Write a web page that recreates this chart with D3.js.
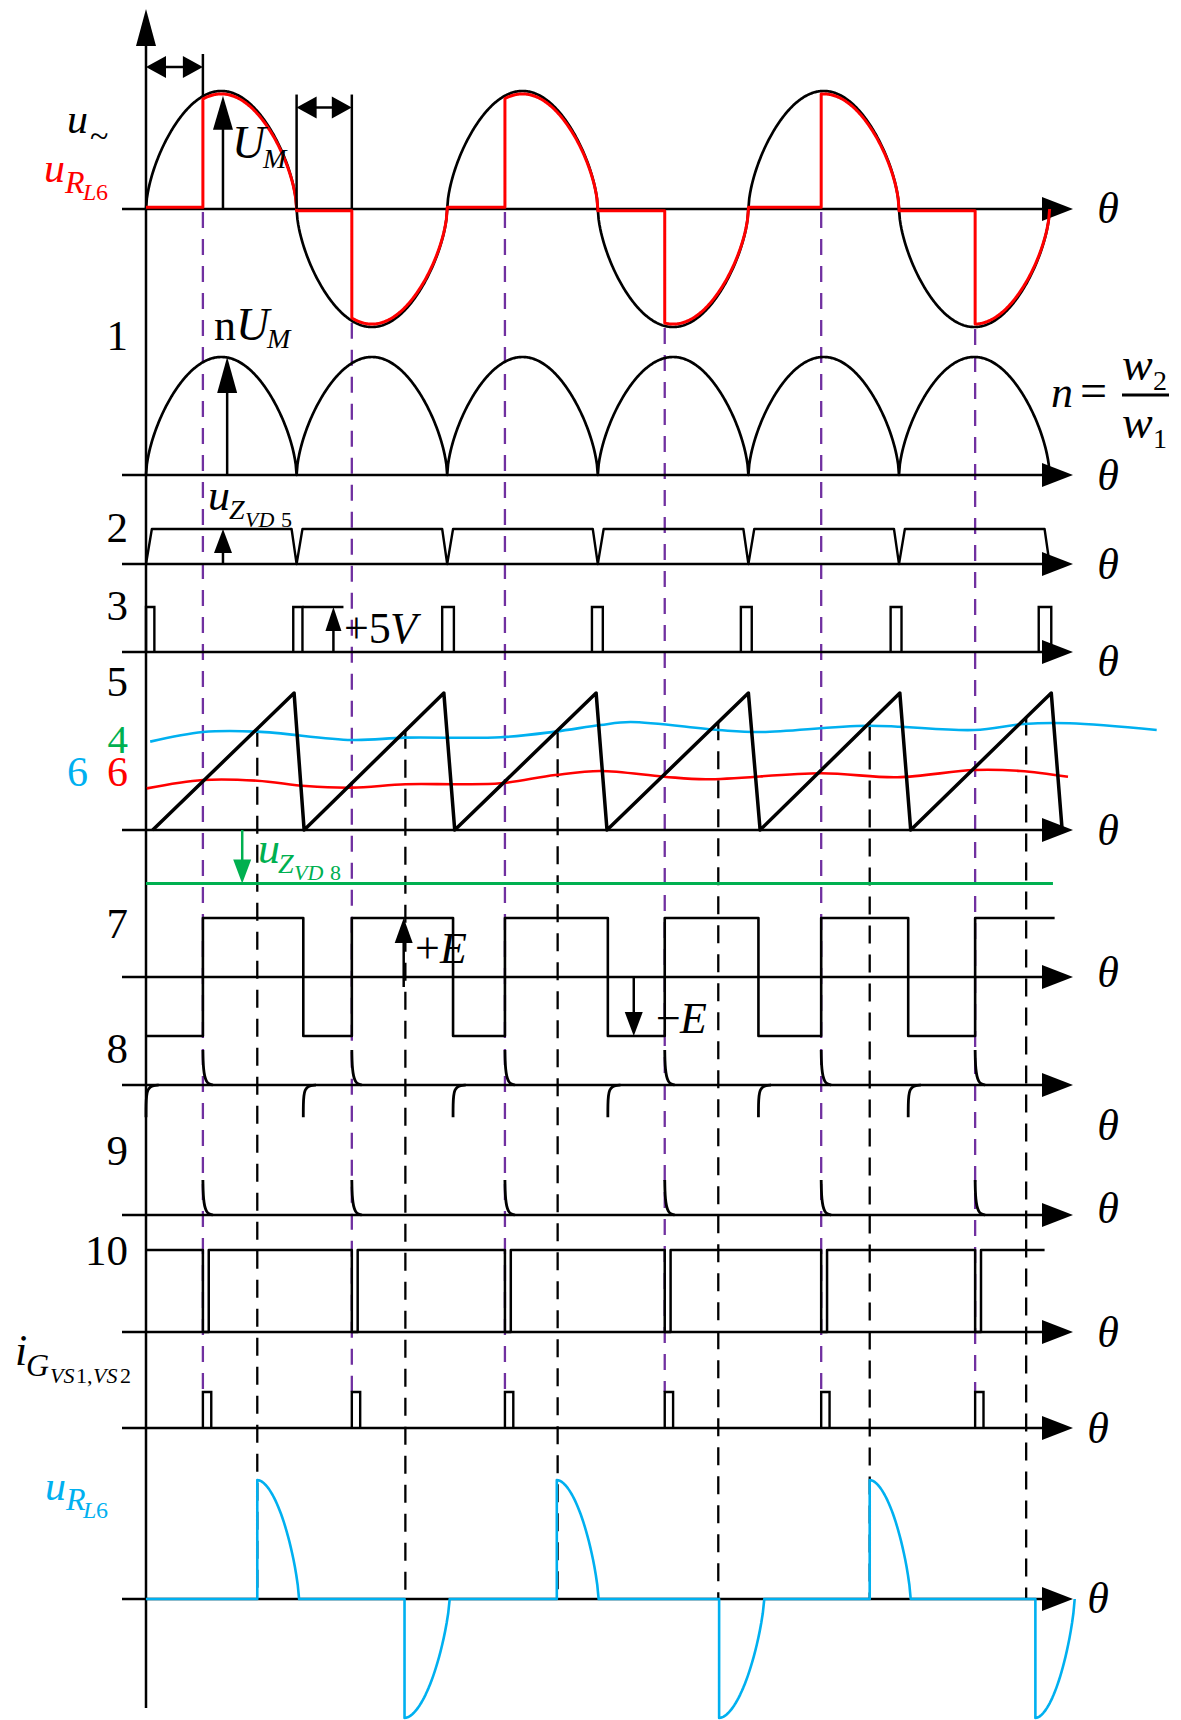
<!DOCTYPE html>
<html><head><meta charset="utf-8">
<script src="https://cdn.jsdelivr.net/npm/d3@7"></script>
<style>body{margin:0;background:#fff} svg{display:block} text{font-family:"Liberation Serif","Times New Roman",serif}</style>
</head><body><svg id="c" width="1181" height="1720"></svg>
<script>
// ---------------- data (angles in degrees of θ) ----------------
const zeroCrossDeg = [0,180,360,540,720,900,1080];
const firingDeg = [68,246,429,620,807,991];              // purple dashed lines / firing instants
const crossDeg = [133,310,492,684,865,1052];             // black dashed lines (sawtooth meets control voltage 6)
const sawPts = [[8,0],[177,1],[189,0],[356,1],[369,0],[538,1],[551,0],[720,1],[734,0],[901,1],[914,0],[1082,1],[1095,0]];
const blueCtrl = [[5,0.645],[68,0.715],[133,0.718],[246,0.657],[310,0.674],[424,0.677],[489,0.718],[543,0.766],[579,0.788],[684,0.73],[734,0.715],[862,0.761],[990,0.73],[1049,0.774],[1104,0.779],[1208,0.73]];
const redCtrl = [[1,0.304],[68,0.365],[133,0.36],[191,0.321],[246,0.309],[310,0.334],[374,0.334],[424,0.341],[489,0.401],[543,0.431],[619,0.389],[669,0.37],[807,0.414],[898,0.385],[990,0.438],[1045,0.431],[1102,0.389]];
const zenerVD8 = -0.39;
const fallDeg = [0,188,367,552,732,911];
const sqEndDeg = 1086;
const trapRise = 7, trapFall = 6;
const pulse3 = [[0,10],[176,187],[354,368],[533,546],[711,724],[890,903],[1067,1082]];
const notch10 = 7;
const panel10End = 1074;
const gateWidth = 10;
const loadPos = [[133,183],[491,541],[865,914]];
const loadNeg = [[309,363],[685,739],[1063,1110]];
const posSpike = [[0,1],[0.2,0.7],[0.8,0.45],[2,0.25],[4,0.11],[7,0.03],[12,0]];
const negSpike = [[0,-0.92],[0,-0.55],[0.6,-0.3],[2,-0.14],[5,-0.05],[9,-0.01],[15,0]];
const thetaLabelY = [208,475,564,661,830,972,1125,1208,1332,1428,1598];
const waveShape = 0.6;   // the drawn half-waves are fuller than a plain sine

// ---------------- scales ----------------
const svg = d3.select('#c');
svg.append('rect').attr('width',1181).attr('height',1720).attr('fill','#fff');
const x = d3.scaleLinear().domain([0,1080]).range([146,1049.6]);
const y1 = d3.scaleLinear().domain([-1,1]).range([327,91]);
const y2 = d3.scaleLinear().domain([0,1]).range([475,357]);
const y3 = d3.scaleLinear().domain([0,1]).range([564,529]);
const y4 = d3.scaleLinear().domain([0,1]).range([652,607]);
const y5 = d3.scaleLinear().domain([0,1]).range([830,693]);
const y7 = d3.scaleLinear().domain([-1,1]).range([1036,918]);
const y8 = d3.scaleLinear().domain([-1,1]).range([1120,1050]);
const y9 = d3.scaleLinear().domain([0,1]).range([1215,1180]);
const y10 = d3.scaleLinear().domain([0,1]).range([1332,1250]);
const yG = d3.scaleLinear().domain([0,1]).range([1428,1392]);
const yU = d3.scaleLinear().domain([-1,1]).range([1718,1480]);
const rad = d => d*Math.PI/180;
const wave = d => { const s=Math.sin(rad(d)); return Math.sign(s)*Math.pow(Math.abs(s),waveShape); };
const BLUE='#00b0f0', RED='#ff0000', GREEN='#00b050', PURPLE='#7030a0';

function path(pts, ys, stroke, w, curve){
  const ln = d3.line().x(d=>x(d[0])).y(d=>ys(d[1])).curve(curve||d3.curveLinear);
  return svg.append('path').attr('d',ln(pts)).attr('fill','none').attr('stroke',stroke)
    .attr('stroke-width',w).attr('stroke-linejoin','round');
}
function tri(p, fill){ svg.append('path').attr('d','M'+p.map(q=>q.join(',')).join('L')+'Z').attr('fill',fill||'#000'); }
function line(x1,y1_,x2,y2_,stroke,w,dash){
  const l = svg.append('line').attr('x1',x1).attr('y1',y1_).attr('x2',x2).attr('y2',y2_)
    .attr('stroke',stroke||'#000').attr('stroke-width',w||2.5);
  if(dash) l.attr('stroke-dasharray',dash);
  return l;
}
function vArrow(xx, yFrom, yTo, color, hl, hw){
  const dir = yTo<yFrom? 1 : -1;
  line(xx,yFrom,xx,yTo+dir*hl*0.6,color,2.5);
  tri([[xx-hw,yTo+dir*hl],[xx,yTo],[xx+hw,yTo+dir*hl]],color);
}
function hDouble(xa, xb, yy){
  line(xa+6,yy,xb-6,yy,'#000',2.5);
  tri([[xa,yy],[xa+20,yy-11],[xa+20,yy+11]]);
  tri([[xb,yy],[xb-20,yy-11],[xb-20,yy+11]]);
}
function axisH(yy){
  line(122,yy,1046,yy,'#000',2.5);
  tri([[1042,yy-12],[1073,yy],[1042,yy+12]]);
}
function T(str, xx, yy, o){
  o=o||{};
  const t = svg.append('text').attr('x',xx).attr('y',yy).attr('font-size',o.size||44)
    .attr('fill',o.fill||'#000').attr('text-anchor',o.anchor||'start').text(str);
  if(o.it) t.attr('font-style','italic');
  return t;
}

// ---------------- dashed guide lines ----------------
function sawAt(d){
  for(let i=0;i<sawPts.length-1;i++){
    const a=sawPts[i], b=sawPts[i+1];
    if(d>=a[0] && d<=b[0]) return a[1]+(b[1]-a[1])*(d-a[0])/(b[0]-a[0]);
  }
  return 0;
}
crossDeg.forEach(d=>{ line(x(d), y5(sawAt(d)), x(d), yU(0), '#000', 2.3, '18,11'); });
firingDeg.forEach((d,k)=>{
  const top = k%2===0 ? y1(0)+3 : y1(wave(d))+2;
  line(x(d), top, x(d), yG(1), PURPLE, 2.3, '16,11');
});

// ---------------- axes ----------------
line(146,40,146,1708,'#000',2.5);
tri([[136,46],[146,9],[156,46]]);
[y1(0),y2(0),y3(0),y4(0),y5(0),y7(0),y8(0),y9(0),y10(0),yG(0),yU(0)].forEach(axisH);

// ---------------- panel 1: u~ and red u_RL6 ----------------
const sinePts = d3.range(0,1080.01,1).map(d=>[d,wave(d)]);
path(sinePts,y1,'#000',2.7);
const redPts=[];
firingDeg.forEach((f,k)=>{
  const z=zeroCrossDeg[k], z2=zeroCrossDeg[k+1];
  const off = k%2===0 ? 0.015 : -0.015;
  redPts.push([z,off],[f,off]);
  for(let d=f; d<z2; d+=1) redPts.push([d,0.975*wave(d)]);
  redPts.push([z2,0]);
});
path(redPts,y1,RED,3);
// annotations
line(x(firingDeg[0]),54,x(firingDeg[0]),y1(wave(firingDeg[0])),'#000',2.5);
hDouble(x(0),x(firingDeg[0]),67);
line(x(zeroCrossDeg[1]),y1(0.97),x(zeroCrossDeg[1]),y1(0),'#000',2.5);
line(x(firingDeg[1]),y1(0.97),x(firingDeg[1]),y1(0),'#000',2.5);
hDouble(x(zeroCrossDeg[1]),x(firingDeg[1]),y1(0.86));
vArrow(x(92),y1(0),y1(0.96),'#000',34,10);

// ---------------- panel 2: rectified ----------------
path(d3.range(0,1080.01,1).map(d=>[d,Math.abs(wave(d))]),y2,'#000',2.7);
vArrow(x(97),y2(0),y2(1),'#000',36,10);

// ---------------- panel 3: trapezoid u_ZVD5 ----------------
const trap=[[0,0],[trapRise,1]];
zeroCrossDeg.slice(1).forEach((z,i,arr)=>{
  trap.push([z-trapFall,1],[z,0]);
  if(i<arr.length-1) trap.push([z+trapRise,1]);
});
path(trap,y3,'#000',2.4);
vArrow(x(92),y3(0),y3(1),'#000',24,9);

// ---------------- panel 4: +5V pulses ----------------
pulse3.forEach(p=>{
  svg.append('path').attr('d',`M${x(p[0])},${y4(0)}V${y4(1)}H${x(p[1])}V${y4(0)}`)
    .attr('fill','none').attr('stroke','#000').attr('stroke-width',2.4);
});
line(x(pulse3[1][1]),y4(1),x(236),y4(1),'#000',2.4);
vArrow(x(224),y4(0),y4(1),'#000',24,8);

// ---------------- panel 5: sawtooth and control voltages ----------------
path(blueCtrl,y5,BLUE,2.6,d3.curveCatmullRom);
path(redCtrl,y5,RED,2.6,d3.curveCatmullRom);
path(sawPts,y5,'#000',3.5);
line(146,y5(zenerVD8),x(1084),y5(zenerVD8),GREEN,3);
vArrow(x(115),y5(0),y5(zenerVD8),GREEN,24,9);

// ---------------- panel 7/8: square wave ----------------
const sq=[[0,-1]];
firingDeg.forEach((f,k)=>{ sq.push([f,1]); if(k+1<fallDeg.length) sq.push([fallDeg[k+1],-1]); });
sq.push([sqEndDeg,1]);
path(sq,y7,'#000',2.6,d3.curveStepAfter);
vArrow(x(308),y7(-0.17),y7(1),'#000',25,9);
vArrow(x(583),y7(0),y7(-1),'#000',24,9);

// ---------------- panel 8/9: differentiated spikes ----------------
firingDeg.forEach(f=>{
  path(posSpike.map(p=>[f+p[0],p[1]]),y8,'#000',2.8,d3.curveBasis);
  path(posSpike.map(p=>[f+p[0],p[1]]),y9,'#000',2.8,d3.curveBasis);
});
fallDeg.forEach(f=>{
  path(negSpike.map(p=>[f+p[0],p[1]]),y8,'#000',2.8,d3.curveBasis);
});

// ---------------- panel 10 ----------------
const p10=[[0,1]];
firingDeg.forEach(f=>{ p10.push([f,1],[f,0],[f+notch10,0],[f+notch10,1]); });
p10.push([panel10End,1]);
path(p10,y10,'#000',2.5);

// ---------------- gate current pulses ----------------
firingDeg.forEach(f=>{
  svg.append('path').attr('d',`M${x(f)},${yG(0)}V${yG(1)}H${x(f+gateWidth)}V${yG(0)}`)
    .attr('fill','none').attr('stroke','#000').attr('stroke-width',2.4);
});

// ---------------- load voltage u_RL6 (blue) ----------------
const pulses = loadPos.map(p=>[p[0],p[1],1]).concat(loadNeg.map(p=>[p[0],p[1],-1])).sort((a,b)=>a[0]-b[0]);
const lp=[[0,0]];
pulses.forEach(p=>{
  lp.push([p[0],0],[p[0],p[2]]);
  for(let i=1;i<=30;i++){ const t=i/30; lp.push([p[0]+(p[1]-p[0])*t, p[2]*Math.pow(Math.max(0,1-Math.pow(t,1.8)),0.75)]); }
});
path(lp,yU,BLUE,2.6);

// ---------------- texts ----------------
T('u',67,133,{it:1,size:42});
T('~',90,147,{size:34});
T('u',44,182,{it:1,size:42,fill:RED});
T('R',65,193,{it:1,size:32,fill:RED});
T('L',83,200,{it:1,size:24,fill:RED}); T('6',96,200,{size:24,fill:RED});
T('U',232,158,{it:1,size:46}); T('M',263,168,{it:1,size:28});
T('n',214,340,{size:44}); T('U',236,340,{it:1,size:46}); T('M',267,348,{it:1,size:28});
T('n',1051,407,{it:1,size:44}); T('=',1080,407,{size:48});
T('w',1122,380,{it:1,size:46}); T('2',1153,390,{size:28});
line(1122,395,1169,395,'#000',3);
T('w',1122,438,{it:1,size:46}); T('1',1153,448,{size:28});
T('u',208,510,{it:1,size:44}); T('Z',229,519,{it:1,size:28});
T('VD',245,527,{it:1,size:22}); T('5',281,527,{size:22});
T('+5',344,643,{size:44}); T('V',390,643,{it:1,size:44});
T('u',258,863,{it:1,size:44,fill:GREEN}); T('Z',278,873,{it:1,size:28,fill:GREEN});
T('VD',294,880,{it:1,size:22,fill:GREEN}); T('8',330,880,{size:22,fill:GREEN});
T('+',415,963,{size:44}); T('E',440,963,{it:1,size:44});
T('−',656,1033,{size:44}); T('E',680,1033,{it:1,size:44});
T('i',15,1365,{it:1,size:44}); T('G',26,1376,{it:1,size:32});
T('VS',50,1383,{it:1,size:22}); T('1,',76,1383,{size:22}); T('VS',93,1383,{it:1,size:22}); T('2',120,1383,{size:22});
T('u',45,1500,{it:1,size:42,fill:BLUE}); T('R',66,1510,{it:1,size:32,fill:BLUE});
T('L',83,1518,{it:1,size:24,fill:BLUE}); T('6',96,1518,{size:24,fill:BLUE});
[['1',350],['2',542],['3',620],['5',696],['7',938],['8',1063],['9',1165],['10',1265]].forEach(a=>T(a[0],128,a[1],{anchor:'end',size:43}));
T('4',128,753,{anchor:'end',fill:GREEN,size:41});
T('6',128,786,{anchor:'end',fill:RED,size:42});
T('6',88,786,{anchor:'end',fill:BLUE,size:42});
thetaLabelY.forEach((yy,i)=>T('θ',i>=9?1098:1108,yy+15,{it:1,size:44,anchor:'middle'}));
</script></body></html>
